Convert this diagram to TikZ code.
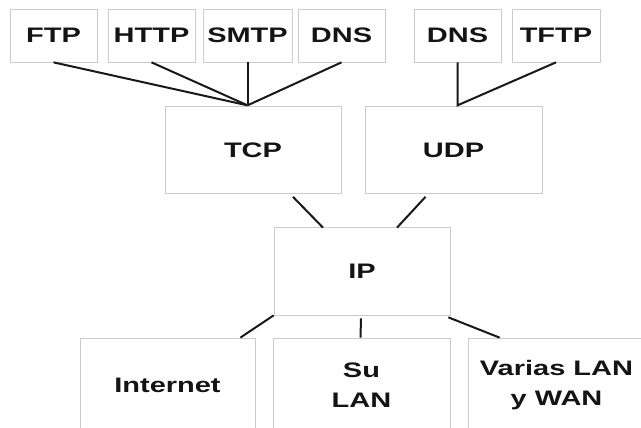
\documentclass[tikz,border=0pt]{standalone}
\usepackage{fontspec}
\newfontfamily\lab[FakeStretch=1.38]{Liberation Sans}
\usetikzlibrary{calc}
\begin{document}
\begin{tikzpicture}[x=1pt,y=-1pt,
  box/.style={draw=gray!40, line width=0.7pt, inner sep=0pt, align=center,
    text=black!92, font=\lab\bfseries\fontsize{21}{30}\selectfont},
  topbox/.style={box, minimum height=53pt},
  midbox/.style={box, minimum width=176pt, minimum height=87pt},
  link/.style={line width=2pt, black!90}]
  \useasboundingbox (0,0) rectangle (641,428);
  \clip (0,0) rectangle (641,428);
  \fill[white] (0,0) rectangle (641,428);

  % application layer
  \node[topbox, minimum width=87pt] (ftp)  at (53.5,35.5)  {FTP};
  \node[topbox, minimum width=87pt] (http) at (151.5,35.5) {HTTP};
  \node[topbox, minimum width=89pt] (smtp) at (247.5,35.5) {SMTP};
  \node[topbox, minimum width=87pt] (dns)  at (341.5,35.5) {DNS};
  \node[topbox, minimum width=87pt] (dnsb) at (457.5,35.5) {DNS};
  \node[topbox, minimum width=88pt] (tftp) at (556,35.5)   {TFTP};

  % transport layer
  \node[midbox] (tcp) at (253,150)   {TCP};
  \node[midbox, minimum width=177pt] (udp) at (453.5,150) {UDP};

  % network layer
  \node[midbox, minimum height=88pt] (ip) at (362,271) {IP};

  % physical networks
  \node[box, minimum width=175pt, minimum height=94pt] (inet)   at (167.5,385) {Internet};
  \node[box, minimum width=177pt, minimum height=94pt] (lan)    at (361.5,385) {Su\\LAN};
  \node[box, minimum width=177pt, minimum height=94pt] (varias) at (556.5,385) {Varias LAN\\y WAN};

  % TCP applications meet in one point
  \coordinate (tcpjoin) at ($(smtp.south)+(0,43)$);
  \draw[link] (ftp.south)  -- (tcpjoin);
  \draw[link] (http.south) -- (tcpjoin);
  \draw[link] (smtp.south) -- (tcpjoin);
  \draw[link] (dns.south)  -- (tcpjoin);

  % UDP applications
  \coordinate (udpjoin) at ($(dnsb.south)+(0,43)$);
  \draw[link] (dnsb.south) -- (udpjoin) -- (tftp.south);

  % transport to IP
  \draw[link] ($(tcp.south)+(40,3)$) -- ($(ip.north)+(-39,1)$);
  \draw[link] ($(udp.south)+(-28,3)$) -- ($(ip.north)+(35,1)$);

  % IP to the networks
  \draw[link] (ip.south west) -- ($(inet.north east)+(-15,0)$);
  \draw[link] ($(ip.south)+(-1,3)$) -- ($(lan.north)+(-1,0)$);
  \draw[link] ($(ip.south east)+(-2,2)$) -- ($(varias.north west)+(32,0)$);
\end{tikzpicture}
\end{document}
